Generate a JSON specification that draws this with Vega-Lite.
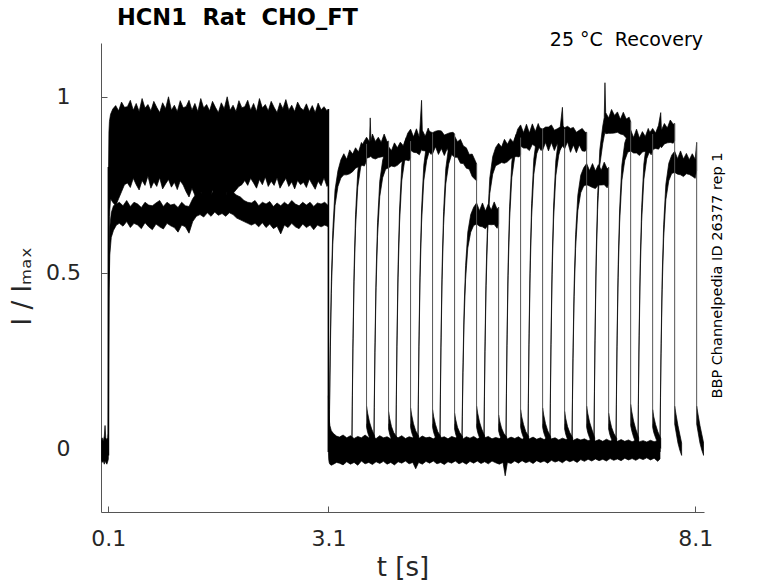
{
"$schema":"https://vega.github.io/schema/vega-lite/v6.json",
"width":603,"height":469,
"autosize":{"type":"none"},
"padding":{"left":101,"top":43,"right":74,"bottom":71},
"background":"white",
"config":{"view":{"stroke":null},"font":"DejaVu Sans"},
"title":{"text":"HCN1\u00a0\u00a0Rat\u00a0\u00a0CHO_FT","anchor":"start","frame":"group","font":"DejaVu Sans","fontSize":22.5,"fontWeight":"bold","color":"black","offset":-17,"baseline":"alphabetic","dx":16},
"datasets":{
"N":[{"note":"25 °C\u00a0\u00a0Recovery"}],
"E":[{"t":0.101,"a":0.80,"b":-0.02},{"t":3.10,"a":0.965,"b":-0.01}],
"R":[{"t":3.62,"a":0.866,"b":0.07},{"t":3.92,"a":0.874,"b":0.07},{"t":4.22,"a":0.874,"b":0.07},{"t":4.52,"a":0.896,"b":0.07},{"t":4.82,"a":0.894,"b":0.07},{"t":5.12,"a":0.809,"b":0.07},{"t":5.42,"a":0.686,"b":0.07},{"t":5.72,"a":0.884,"b":0.07},{"t":6.02,"a":0.909,"b":0.07},{"t":6.32,"a":0.909,"b":0.07},{"t":6.62,"a":0.899,"b":0.07},{"t":6.92,"a":0.799,"b":0.07},{"t":7.22,"a":0.929,"b":0.07},{"t":7.52,"a":0.894,"b":0.07},{"t":7.82,"a":0.924,"b":0.07},{"t":8.12,"a":0.87,"b":0.07}],
"A":[
{"g":"pre","t":0.003,"l":-0.03,"h":0.02},{"g":"pre","t":0.015,"l":-0.04,"h":0.03},{"g":"pre","t":0.03,"l":-0.035,"h":0.02},{"g":"pre","t":0.045,"l":-0.045,"h":0.035},{"g":"pre","t":0.055,"l":-0.035,"h":0.065},{"g":"pre","t":0.065,"l":-0.04,"h":0.03},{"g":"pre","t":0.08,"l":-0.045,"h":0.025},{"g":"pre","t":0.095,"l":-0.035,"h":0.03},{"g":"pre","t":0.1,"l":-0.03,"h":0.04},
{"g":"p1","t":0.100,"l":0.0,"h":0.05},{"g":"p1","t":0.103,"l":0.30,"h":0.80},{"g":"p1","t":0.108,"l":0.55,"h":0.90},{"g":"p1","t":0.115,"l":0.66,"h":0.93},{"g":"p1","t":0.13,"l":0.71,"h":0.95},{"g":"p1","t":0.16,"l":0.70,"h":0.965},{"g":"p1","t":0.2,"l":0.69,"h":0.975},{"g":"p1","t":0.24,"l":0.71,"h":0.96},{"g":"p1","t":0.28,"l":0.73,"h":0.985},{"g":"p1","t":0.32,"l":0.75,"h":0.97},
{"g":"p1","t":0.36,"l":0.755,"h":0.972},{"g":"p1","t":0.40,"l":0.742,"h":0.99},{"g":"p1","t":0.44,"l":0.768,"h":0.962},{"g":"p1","t":0.48,"l":0.75,"h":0.981},{"g":"p1","t":0.52,"l":0.735,"h":0.958},{"g":"p1","t":0.56,"l":0.762,"h":0.995},{"g":"p1","t":0.60,"l":0.748,"h":0.968},{"g":"p1","t":0.64,"l":0.775,"h":0.978},{"g":"p1","t":0.68,"l":0.74,"h":0.96},{"g":"p1","t":0.72,"l":0.758,"h":0.987},{"g":"p1","t":0.76,"l":0.745,"h":0.97},{"g":"p1","t":0.80,"l":0.77,"h":0.955},{"g":"p1","t":0.84,"l":0.738,"h":0.983},{"g":"p1","t":0.88,"l":0.752,"h":0.966},{"g":"p1","t":0.92,"l":0.765,"h":1.0},{"g":"p1","t":0.96,"l":0.743,"h":0.962},{"g":"p1","t":1.00,"l":0.757,"h":0.976},{"g":"p1","t":1.04,"l":0.736,"h":0.958},{"g":"p1","t":1.08,"l":0.761,"h":0.989},{"g":"p1","t":1.12,"l":0.749,"h":0.969},{"g":"p1","t":1.16,"l":0.73,"h":0.972},{"g":"p1","t":1.20,"l":0.715,"h":0.99},{"g":"p1","t":1.24,"l":0.74,"h":0.962},{"g":"p1","t":1.28,"l":0.72,"h":0.981},{"g":"p1","t":1.32,"l":0.705,"h":0.958},{"g":"p1","t":1.36,"l":0.73,"h":0.995},{"g":"p1","t":1.40,"l":0.71,"h":0.968},{"g":"p1","t":1.44,"l":0.725,"h":0.978},{"g":"p1","t":1.48,"l":0.70,"h":0.96},{"g":"p1","t":1.52,"l":0.735,"h":0.987},{"g":"p1","t":1.56,"l":0.715,"h":0.97},{"g":"p1","t":1.60,"l":0.70,"h":0.955},{"g":"p1","t":1.64,"l":0.72,"h":0.983},{"g":"p1","t":1.68,"l":0.705,"h":0.966},{"g":"p1","t":1.72,"l":0.73,"h":1.0},{"g":"p1","t":1.76,"l":0.71,"h":0.962},{"g":"p1","t":1.80,"l":0.725,"h":0.976},{"g":"p1","t":1.84,"l":0.735,"h":0.958},{"g":"p1","t":1.88,"l":0.745,"h":0.989},{"g":"p1","t":1.92,"l":0.75,"h":0.969},{"g":"p1","t":1.96,"l":0.762,"h":0.972},{"g":"p1","t":2.00,"l":0.748,"h":0.99},{"g":"p1","t":2.04,"l":0.768,"h":0.962},{"g":"p1","t":2.08,"l":0.755,"h":0.981},{"g":"p1","t":2.12,"l":0.74,"h":0.958},{"g":"p1","t":2.16,"l":0.765,"h":0.995},{"g":"p1","t":2.20,"l":0.75,"h":0.968},{"g":"p1","t":2.24,"l":0.772,"h":0.978},{"g":"p1","t":2.28,"l":0.745,"h":0.96},{"g":"p1","t":2.32,"l":0.76,"h":0.987},{"g":"p1","t":2.36,"l":0.748,"h":0.97},{"g":"p1","t":2.40,"l":0.77,"h":0.955},{"g":"p1","t":2.44,"l":0.74,"h":0.983},{"g":"p1","t":2.48,"l":0.755,"h":0.966},{"g":"p1","t":2.52,"l":0.768,"h":0.992},{"g":"p1","t":2.56,"l":0.745,"h":0.962},{"g":"p1","t":2.60,"l":0.758,"h":0.976},{"g":"p1","t":2.64,"l":0.738,"h":0.958},{"g":"p1","t":2.68,"l":0.762,"h":0.985},{"g":"p1","t":2.72,"l":0.75,"h":0.969},{"g":"p1","t":2.76,"l":0.757,"h":0.962},{"g":"p1","t":2.80,"l":0.742,"h":0.98},{"g":"p1","t":2.84,"l":0.766,"h":0.958},{"g":"p1","t":2.88,"l":0.751,"h":0.975},{"g":"p1","t":2.92,"l":0.737,"h":0.955},{"g":"p1","t":2.96,"l":0.76,"h":0.982},{"g":"p1","t":3.00,"l":0.747,"h":0.963},{"g":"p1","t":3.04,"l":0.77,"h":0.972},{"g":"p1","t":3.08,"l":0.745,"h":0.96},{"g":"p1","t":3.10,"l":0.75,"h":0.965},
{"g":"lo","t":0.102,"l":0.0,"h":0.08},{"g":"lo","t":0.105,"l":0.25,"h":0.42},{"g":"lo","t":0.11,"l":0.45,"h":0.56},{"g":"lo","t":0.12,"l":0.55,"h":0.63},{"g":"lo","t":0.14,"l":0.60,"h":0.67},{"g":"lo","t":0.17,"l":0.62,"h":0.69},{"g":"lo","t":0.21,"l":0.635,"h":0.695},
{"g":"lo","t":0.25,"l":0.64,"h":0.70},{"g":"lo","t":0.30,"l":0.632,"h":0.69},{"g":"lo","t":0.35,"l":0.645,"h":0.705},{"g":"lo","t":0.40,"l":0.628,"h":0.688},{"g":"lo","t":0.45,"l":0.64,"h":0.70},{"g":"lo","t":0.50,"l":0.635,"h":0.695},{"g":"lo","t":0.55,"l":0.625,"h":0.685},{"g":"lo","t":0.60,"l":0.642,"h":0.70},{"g":"lo","t":0.65,"l":0.63,"h":0.692},{"g":"lo","t":0.70,"l":0.622,"h":0.69},{"g":"lo","t":0.75,"l":0.638,"h":0.698},{"g":"lo","t":0.80,"l":0.63,"h":0.705},{"g":"lo","t":0.85,"l":0.624,"h":0.688},{"g":"lo","t":0.90,"l":0.64,"h":0.70},{"g":"lo","t":0.95,"l":0.633,"h":0.692},{"g":"lo","t":1.00,"l":0.628,"h":0.695},{"g":"lo","t":1.05,"l":0.615,"h":0.685},{"g":"lo","t":1.10,"l":0.635,"h":0.70},{"g":"lo","t":1.15,"l":0.63,"h":0.69},{"g":"lo","t":1.20,"l":0.612,"h":0.688},{"g":"lo","t":1.25,"l":0.645,"h":0.71},{"g":"lo","t":1.30,"l":0.66,"h":0.725},{"g":"lo","t":1.35,"l":0.665,"h":0.73},{"g":"lo","t":1.40,"l":0.658,"h":0.72},{"g":"lo","t":1.45,"l":0.67,"h":0.735},{"g":"lo","t":1.50,"l":0.66,"h":0.722},{"g":"lo","t":1.55,"l":0.672,"h":0.738},{"g":"lo","t":1.60,"l":0.663,"h":0.728},{"g":"lo","t":1.65,"l":0.668,"h":0.735},{"g":"lo","t":1.70,"l":0.66,"h":0.72},{"g":"lo","t":1.75,"l":0.67,"h":0.74},{"g":"lo","t":1.80,"l":0.665,"h":0.728},{"g":"lo","t":1.85,"l":0.655,"h":0.72},{"g":"lo","t":1.90,"l":0.65,"h":0.715},{"g":"lo","t":1.95,"l":0.645,"h":0.705},{"g":"lo","t":2.00,"l":0.64,"h":0.70},{"g":"lo","t":2.05,"l":0.635,"h":0.698},{"g":"lo","t":2.10,"l":0.64,"h":0.705},{"g":"lo","t":2.15,"l":0.63,"h":0.69},{"g":"lo","t":2.20,"l":0.642,"h":0.70},{"g":"lo","t":2.25,"l":0.628,"h":0.695},{"g":"lo","t":2.30,"l":0.638,"h":0.702},{"g":"lo","t":2.35,"l":0.625,"h":0.688},{"g":"lo","t":2.40,"l":0.632,"h":0.698},{"g":"lo","t":2.45,"l":0.61,"h":0.69},{"g":"lo","t":2.50,"l":0.635,"h":0.70},{"g":"lo","t":2.55,"l":0.628,"h":0.692},{"g":"lo","t":2.60,"l":0.64,"h":0.705},{"g":"lo","t":2.65,"l":0.63,"h":0.695},{"g":"lo","t":2.70,"l":0.625,"h":0.69},{"g":"lo","t":2.75,"l":0.638,"h":0.70},{"g":"lo","t":2.80,"l":0.628,"h":0.692},{"g":"lo","t":2.85,"l":0.635,"h":0.70},{"g":"lo","t":2.90,"l":0.622,"h":0.688},{"g":"lo","t":2.95,"l":0.635,"h":0.698},{"g":"lo","t":3.00,"l":0.63,"h":0.695},{"g":"lo","t":3.05,"l":0.635,"h":0.70},{"g":"lo","t":3.10,"l":0.63,"h":0.69},
{"g":"base","t":3.100,"l":-0.01,"h":0.15},{"g":"base","t":3.104,"l":-0.03,"h":0.11},{"g":"base","t":3.11,"l":-0.04,"h":0.085},{"g":"base","t":3.12,"l":-0.045,"h":0.065},{"g":"base","t":3.14,"l":-0.048,"h":0.05},{"g":"base","t":3.17,"l":-0.045,"h":0.042},{"g":"base","t":3.21,"l":-0.04,"h":0.035},
{"g":"base","t":3.25,"l":-0.042,"h":0.032},{"g":"base","t":3.30,"l":-0.047,"h":0.038},{"g":"base","t":3.35,"l":-0.038,"h":0.03},{"g":"base","t":3.40,"l":-0.045,"h":0.036},{"g":"base","t":3.45,"l":-0.04,"h":0.028},{"g":"base","t":3.50,"l":-0.048,"h":0.034},{"g":"base","t":3.55,"l":-0.036,"h":0.03},{"g":"base","t":3.60,"l":-0.044,"h":0.038},{"g":"base","t":3.65,"l":-0.04,"h":0.03},{"g":"base","t":3.70,"l":-0.046,"h":0.034},{"g":"base","t":3.75,"l":-0.038,"h":0.028},{"g":"base","t":3.80,"l":-0.043,"h":0.036},{"g":"base","t":3.85,"l":-0.037,"h":0.03},{"g":"base","t":3.90,"l":-0.045,"h":0.033},{"g":"base","t":3.95,"l":-0.04,"h":0.027},{"g":"base","t":4.00,"l":-0.047,"h":0.035},{"g":"base","t":4.05,"l":-0.038,"h":0.03},{"g":"base","t":4.10,"l":-0.042,"h":0.036},{"g":"base","t":4.15,"l":-0.036,"h":0.028},{"g":"base","t":4.20,"l":-0.044,"h":0.033},{"g":"base","t":4.25,"l":-0.04,"h":0.03},{"g":"base","t":4.29,"l":-0.058,"h":0.034},{"g":"base","t":4.33,"l":-0.04,"h":0.028},{"g":"base","t":4.38,"l":-0.045,"h":0.035},{"g":"base","t":4.43,"l":-0.037,"h":0.03},{"g":"base","t":4.48,"l":-0.042,"h":0.032},{"g":"base","t":4.53,"l":-0.036,"h":0.027},{"g":"base","t":4.58,"l":-0.044,"h":0.034},{"g":"base","t":4.63,"l":-0.04,"h":0.03},{"g":"base","t":4.68,"l":-0.046,"h":0.033},{"g":"base","t":4.73,"l":-0.038,"h":0.027},{"g":"base","t":4.78,"l":-0.042,"h":0.034},{"g":"base","t":4.83,"l":-0.036,"h":0.03},{"g":"base","t":4.88,"l":-0.044,"h":0.032},{"g":"base","t":4.93,"l":-0.039,"h":0.026},{"g":"base","t":4.98,"l":-0.045,"h":0.033},{"g":"base","t":5.03,"l":-0.037,"h":0.029},{"g":"base","t":5.08,"l":-0.042,"h":0.034},{"g":"base","t":5.13,"l":-0.036,"h":0.027},{"g":"base","t":5.18,"l":-0.043,"h":0.032},{"g":"base","t":5.23,"l":-0.038,"h":0.03},{"g":"base","t":5.28,"l":-0.044,"h":0.034},{"g":"base","t":5.33,"l":-0.036,"h":0.027},{"g":"base","t":5.38,"l":-0.041,"h":0.031},{"g":"base","t":5.43,"l":-0.045,"h":0.028},{"g":"base","t":5.48,"l":-0.04,"h":0.033},{"g":"base","t":5.51,"l":-0.078,"h":0.03},{"g":"base","t":5.54,"l":-0.04,"h":0.027},{"g":"base","t":5.59,"l":-0.043,"h":0.032},{"g":"base","t":5.64,"l":-0.036,"h":0.028},{"g":"base","t":5.69,"l":-0.042,"h":0.033},{"g":"base","t":5.74,"l":-0.035,"h":0.026},{"g":"base","t":5.79,"l":-0.041,"h":0.031},{"g":"base","t":5.84,"l":-0.037,"h":0.027},{"g":"base","t":5.89,"l":-0.043,"h":0.032},{"g":"base","t":5.94,"l":-0.035,"h":0.026},{"g":"base","t":5.99,"l":-0.04,"h":0.03},{"g":"base","t":6.04,"l":-0.036,"h":0.025},{"g":"base","t":6.09,"l":-0.042,"h":0.031},{"g":"base","t":6.14,"l":-0.034,"h":0.027},{"g":"base","t":6.19,"l":-0.039,"h":0.03},{"g":"base","t":6.24,"l":-0.035,"h":0.024},{"g":"base","t":6.29,"l":-0.041,"h":0.029},{"g":"base","t":6.34,"l":-0.033,"h":0.025},{"g":"base","t":6.39,"l":-0.038,"h":0.028},{"g":"base","t":6.44,"l":-0.034,"h":0.023},{"g":"base","t":6.49,"l":-0.04,"h":0.028},{"g":"base","t":6.54,"l":-0.032,"h":0.024},{"g":"base","t":6.59,"l":-0.037,"h":0.027},{"g":"base","t":6.64,"l":-0.031,"h":0.022},{"g":"base","t":6.69,"l":-0.036,"h":0.026},{"g":"base","t":6.74,"l":-0.03,"h":0.021},{"g":"base","t":6.79,"l":-0.035,"h":0.025},{"g":"base","t":6.84,"l":-0.031,"h":0.02},{"g":"base","t":6.89,"l":-0.036,"h":0.026},{"g":"base","t":6.94,"l":-0.029,"h":0.021},{"g":"base","t":6.99,"l":-0.034,"h":0.024},{"g":"base","t":7.04,"l":-0.03,"h":0.02},{"g":"base","t":7.09,"l":-0.035,"h":0.025},{"g":"base","t":7.14,"l":-0.028,"h":0.02},{"g":"base","t":7.19,"l":-0.033,"h":0.024},{"g":"base","t":7.24,"l":-0.029,"h":0.019},{"g":"base","t":7.29,"l":-0.034,"h":0.023},{"g":"base","t":7.34,"l":-0.028,"h":0.019},{"g":"base","t":7.39,"l":-0.032,"h":0.022},{"g":"base","t":7.44,"l":-0.027,"h":0.018},{"g":"base","t":7.49,"l":-0.033,"h":0.023},{"g":"base","t":7.54,"l":-0.028,"h":0.019},{"g":"base","t":7.59,"l":-0.037,"h":0.022},{"g":"base","t":7.62,"l":-0.03,"h":0.02},
{"g":"u0","t":3.62,"l":0.06,"h":0.12},{"g":"u0","t":3.635,"l":0.045,"h":0.10},{"g":"u0","t":3.66,"l":0.03,"h":0.075},{"g":"u0","t":3.69,"l":0.015,"h":0.055},{"g":"u0","t":3.73,"l":0.0,"h":0.035},
{"g":"u1","t":3.92,"l":0.055,"h":0.105},{"g":"u1","t":3.935,"l":0.04,"h":0.085},{"g":"u1","t":3.96,"l":0.025,"h":0.062},{"g":"u1","t":3.99,"l":0.012,"h":0.045},{"g":"u1","t":4.03,"l":0.0,"h":0.033},
{"g":"u2","t":4.22,"l":0.06,"h":0.115},{"g":"u2","t":4.235,"l":0.045,"h":0.095},{"g":"u2","t":4.26,"l":0.03,"h":0.07},{"g":"u2","t":4.29,"l":0.015,"h":0.05},{"g":"u2","t":4.33,"l":0.0,"h":0.035},
{"g":"u3","t":4.52,"l":0.06,"h":0.11},{"g":"u3","t":4.535,"l":0.045,"h":0.09},{"g":"u3","t":4.56,"l":0.03,"h":0.068},{"g":"u3","t":4.59,"l":0.015,"h":0.048},{"g":"u3","t":4.63,"l":0.0,"h":0.034},
{"g":"u4","t":4.82,"l":0.055,"h":0.10},{"g":"u4","t":4.835,"l":0.04,"h":0.082},{"g":"u4","t":4.86,"l":0.025,"h":0.06},{"g":"u4","t":4.89,"l":0.012,"h":0.045},{"g":"u4","t":4.93,"l":0.0,"h":0.033},
{"g":"u5","t":5.12,"l":0.06,"h":0.12},{"g":"u5","t":5.135,"l":0.045,"h":0.10},{"g":"u5","t":5.16,"l":0.03,"h":0.075},{"g":"u5","t":5.19,"l":0.015,"h":0.055},{"g":"u5","t":5.23,"l":0.0,"h":0.035},
{"g":"u6","t":5.42,"l":0.05,"h":0.095},{"g":"u6","t":5.435,"l":0.038,"h":0.078},{"g":"u6","t":5.46,"l":0.025,"h":0.058},{"g":"u6","t":5.49,"l":0.012,"h":0.043},{"g":"u6","t":5.53,"l":0.0,"h":0.032},
{"g":"u7","t":5.72,"l":0.06,"h":0.11},{"g":"u7","t":5.735,"l":0.045,"h":0.09},{"g":"u7","t":5.76,"l":0.03,"h":0.068},{"g":"u7","t":5.79,"l":0.015,"h":0.048},{"g":"u7","t":5.83,"l":0.0,"h":0.034},
{"g":"u8","t":6.02,"l":0.06,"h":0.115},{"g":"u8","t":6.035,"l":0.045,"h":0.095},{"g":"u8","t":6.06,"l":0.03,"h":0.07},{"g":"u8","t":6.09,"l":0.015,"h":0.05},{"g":"u8","t":6.13,"l":0.0,"h":0.033},
{"g":"u9","t":6.32,"l":0.055,"h":0.105},{"g":"u9","t":6.335,"l":0.04,"h":0.085},{"g":"u9","t":6.36,"l":0.025,"h":0.062},{"g":"u9","t":6.39,"l":0.012,"h":0.045},{"g":"u9","t":6.43,"l":0.0,"h":0.03},
{"g":"u10","t":6.62,"l":0.06,"h":0.12},{"g":"u10","t":6.635,"l":0.045,"h":0.10},{"g":"u10","t":6.66,"l":0.03,"h":0.075},{"g":"u10","t":6.69,"l":0.015,"h":0.055},{"g":"u10","t":6.73,"l":0.0,"h":0.03},
{"g":"u11","t":6.92,"l":0.055,"h":0.10},{"g":"u11","t":6.935,"l":0.04,"h":0.082},{"g":"u11","t":6.96,"l":0.025,"h":0.06},{"g":"u11","t":6.99,"l":0.012,"h":0.043},{"g":"u11","t":7.03,"l":0.0,"h":0.028},
{"g":"u12","t":7.22,"l":0.065,"h":0.125},{"g":"u12","t":7.235,"l":0.05,"h":0.105},{"g":"u12","t":7.26,"l":0.032,"h":0.078},{"g":"u12","t":7.29,"l":0.015,"h":0.055},{"g":"u12","t":7.33,"l":0.0,"h":0.03},
{"g":"u13","t":7.52,"l":0.06,"h":0.11},{"g":"u13","t":7.535,"l":0.045,"h":0.09},{"g":"u13","t":7.56,"l":0.03,"h":0.068},{"g":"u13","t":7.59,"l":0.015,"h":0.048},{"g":"u13","t":7.63,"l":0.0,"h":0.028},
{"g":"u14","t":7.82,"l":0.07,"h":0.12},{"g":"u14","t":7.84,"l":0.045,"h":0.095},{"g":"u14","t":7.865,"l":0.015,"h":0.065},{"g":"u14","t":7.89,"l":-0.005,"h":0.04},{"g":"u14","t":7.915,"l":-0.02,"h":0.015},
{"g":"u15","t":8.12,"l":0.07,"h":0.12},{"g":"u15","t":8.14,"l":0.045,"h":0.095},{"g":"u15","t":8.165,"l":0.015,"h":0.065},{"g":"u15","t":8.19,"l":-0.005,"h":0.04},{"g":"u15","t":8.215,"l":-0.02,"h":0.015},
{"g":"k0","t":3.11,"l":-0.01,"h":0.02},{"g":"k0","t":3.116,"l":0.11,"h":0.14},{"g":"k0","t":3.125,"l":0.26,"h":0.29},{"g":"k0","t":3.14,"l":0.44,"h":0.475},{"g":"k0","t":3.16,"l":0.58,"h":0.62},{"g":"k0","t":3.19,"l":0.69,"h":0.735},{"g":"k0","t":3.23,"l":0.745,"h":0.79},{"g":"k0","t":3.27,"l":0.769,"h":0.821},{"g":"k0","t":3.31,"l":0.778,"h":0.838},{"g":"k0","t":3.35,"l":0.778,"h":0.822},{"g":"k0","t":3.39,"l":0.781,"h":0.849},{"g":"k0","t":3.43,"l":0.787,"h":0.837},{"g":"k0","t":3.47,"l":0.797,"h":0.855},{"g":"k0","t":3.51,"l":0.801,"h":0.843},{"g":"k0","t":3.55,"l":0.806,"h":0.87},{"g":"k0","t":3.59,"l":0.803,"h":0.857},{"g":"k0","t":3.62,"l":0.818,"h":0.866},
{"g":"k1","t":3.42,"l":-0.01,"h":0.02},{"g":"k1","t":3.426,"l":0.12,"h":0.15},{"g":"k1","t":3.435,"l":0.283,"h":0.313},{"g":"k1","t":3.45,"l":0.475,"h":0.511},{"g":"k1","t":3.47,"l":0.626,"h":0.666},{"g":"k1","t":3.50,"l":0.743,"h":0.787},{"g":"k1","t":3.54,"l":0.80,"h":0.85},{"g":"k1","t":3.58,"l":0.819,"h":0.871},{"g":"k1","t":3.62,"l":0.825,"h":0.885},{"g":"k1","t":3.66,"l":0.828,"h":0.872},{"g":"k1","t":3.67,"l":0.83,"h":0.94},{"g":"k1","t":3.68,"l":0.83,"h":0.875},{"g":"k1","t":3.70,"l":0.826,"h":0.894},{"g":"k1","t":3.74,"l":0.823,"h":0.873},{"g":"k1","t":3.78,"l":0.827,"h":0.885},{"g":"k1","t":3.82,"l":0.829,"h":0.871},{"g":"k1","t":3.86,"l":0.83,"h":0.894},{"g":"k1","t":3.90,"l":0.818,"h":0.872},{"g":"k1","t":3.92,"l":0.826,"h":0.874},
{"g":"k2","t":3.72,"l":-0.01,"h":0.02},{"g":"k2","t":3.726,"l":0.116,"h":0.146},{"g":"k2","t":3.735,"l":0.272,"h":0.302},{"g":"k2","t":3.75,"l":0.458,"h":0.494},{"g":"k2","t":3.77,"l":0.603,"h":0.643},{"g":"k2","t":3.80,"l":0.716,"h":0.76},{"g":"k2","t":3.84,"l":0.77,"h":0.82},{"g":"k2","t":3.88,"l":0.794,"h":0.846},{"g":"k2","t":3.92,"l":0.798,"h":0.858},{"g":"k2","t":3.96,"l":0.803,"h":0.847},{"g":"k2","t":4.00,"l":0.801,"h":0.869},{"g":"k2","t":4.04,"l":0.805,"h":0.855},{"g":"k2","t":4.08,"l":0.813,"h":0.871},{"g":"k2","t":4.12,"l":0.819,"h":0.861},{"g":"k2","t":4.16,"l":0.82,"h":0.884},{"g":"k2","t":4.20,"l":0.818,"h":0.872},{"g":"k2","t":4.22,"l":0.826,"h":0.874},
{"g":"k3","t":4.02,"l":-0.01,"h":0.02},{"g":"k3","t":4.026,"l":0.124,"h":0.154},{"g":"k3","t":4.035,"l":0.29,"h":0.32},{"g":"k3","t":4.05,"l":0.487,"h":0.523},{"g":"k3","t":4.07,"l":0.641,"h":0.681},{"g":"k3","t":4.10,"l":0.761,"h":0.805},{"g":"k3","t":4.14,"l":0.819,"h":0.869},{"g":"k3","t":4.18,"l":0.844,"h":0.896},{"g":"k3","t":4.22,"l":0.848,"h":0.908},{"g":"k3","t":4.26,"l":0.842,"h":0.886},{"g":"k3","t":4.30,"l":0.841,"h":0.909},{"g":"k3","t":4.34,"l":0.835,"h":0.885},{"g":"k3","t":4.37,"l":0.85,"h":0.99},{"g":"k3","t":4.38,"l":0.847,"h":0.905},{"g":"k3","t":4.42,"l":0.846,"h":0.888},{"g":"k3","t":4.46,"l":0.847,"h":0.911},{"g":"k3","t":4.50,"l":0.836,"h":0.89},{"g":"k3","t":4.52,"l":0.848,"h":0.896},
{"g":"k4","t":4.32,"l":-0.01,"h":0.02},{"g":"k4","t":4.326,"l":0.124,"h":0.154},{"g":"k4","t":4.335,"l":0.29,"h":0.32},{"g":"k4","t":4.35,"l":0.487,"h":0.523},{"g":"k4","t":4.37,"l":0.641,"h":0.681},{"g":"k4","t":4.40,"l":0.761,"h":0.805},{"g":"k4","t":4.44,"l":0.819,"h":0.869},{"g":"k4","t":4.48,"l":0.849,"h":0.901},{"g":"k4","t":4.52,"l":0.838,"h":0.898},{"g":"k4","t":4.56,"l":0.858,"h":0.902},{"g":"k4","t":4.60,"l":0.836,"h":0.904},{"g":"k4","t":4.64,"l":0.853,"h":0.903},{"g":"k4","t":4.68,"l":0.833,"h":0.891},{"g":"k4","t":4.72,"l":0.853,"h":0.895},{"g":"k4","t":4.76,"l":0.834,"h":0.898},{"g":"k4","t":4.80,"l":0.845,"h":0.899},{"g":"k4","t":4.82,"l":0.846,"h":0.894},
{"g":"k5","t":4.62,"l":-0.01,"h":0.02},{"g":"k5","t":4.626,"l":0.123,"h":0.153},{"g":"k5","t":4.635,"l":0.286,"h":0.316},{"g":"k5","t":4.65,"l":0.481,"h":0.517},{"g":"k5","t":4.67,"l":0.634,"h":0.674},{"g":"k5","t":4.70,"l":0.752,"h":0.796},{"g":"k5","t":4.74,"l":0.809,"h":0.859},{"g":"k5","t":4.78,"l":0.836,"h":0.888},{"g":"k5","t":4.82,"l":0.828,"h":0.888},{"g":"k5","t":4.86,"l":0.828,"h":0.872},{"g":"k5","t":4.90,"l":0.811,"h":0.879},{"g":"k5","t":4.94,"l":0.81,"h":0.86},{"g":"k5","t":4.98,"l":0.797,"h":0.855},{"g":"k5","t":5.02,"l":0.794,"h":0.836},{"g":"k5","t":5.06,"l":0.773,"h":0.837},{"g":"k5","t":5.10,"l":0.765,"h":0.819},{"g":"k5","t":5.12,"l":0.761,"h":0.809},
{"g":"k6","t":4.92,"l":-0.01,"h":0.02},{"g":"k6","t":4.926,"l":0.09,"h":0.12},{"g":"k6","t":4.935,"l":0.215,"h":0.245},{"g":"k6","t":4.95,"l":0.365,"h":0.40},{"g":"k6","t":4.97,"l":0.48,"h":0.52},{"g":"k6","t":5.00,"l":0.57,"h":0.615},{"g":"k6","t":5.04,"l":0.615,"h":0.665},{"g":"k6","t":5.08,"l":0.634,"h":0.686},{"g":"k6","t":5.12,"l":0.638,"h":0.698},{"g":"k6","t":5.16,"l":0.632,"h":0.676},{"g":"k6","t":5.20,"l":0.63,"h":0.698},{"g":"k6","t":5.24,"l":0.625,"h":0.675},{"g":"k6","t":5.28,"l":0.637,"h":0.695},{"g":"k6","t":5.32,"l":0.636,"h":0.678},{"g":"k6","t":5.36,"l":0.637,"h":0.701},{"g":"k6","t":5.40,"l":0.626,"h":0.68},{"g":"k6","t":5.42,"l":0.638,"h":0.686},
{"g":"k7","t":5.22,"l":-0.01,"h":0.02},{"g":"k7","t":5.226,"l":0.118,"h":0.148},{"g":"k7","t":5.235,"l":0.275,"h":0.305},{"g":"k7","t":5.25,"l":0.463,"h":0.499},{"g":"k7","t":5.27,"l":0.611,"h":0.651},{"g":"k7","t":5.30,"l":0.725,"h":0.769},{"g":"k7","t":5.34,"l":0.78,"h":0.83},{"g":"k7","t":5.38,"l":0.804,"h":0.856},{"g":"k7","t":5.42,"l":0.808,"h":0.868},{"g":"k7","t":5.46,"l":0.813,"h":0.857},{"g":"k7","t":5.50,"l":0.811,"h":0.879},{"g":"k7","t":5.54,"l":0.815,"h":0.865},{"g":"k7","t":5.58,"l":0.823,"h":0.881},{"g":"k7","t":5.62,"l":0.829,"h":0.871},{"g":"k7","t":5.66,"l":0.83,"h":0.894},{"g":"k7","t":5.70,"l":0.829,"h":0.883},{"g":"k7","t":5.72,"l":0.836,"h":0.884},
{"g":"k8","t":5.52,"l":-0.01,"h":0.02},{"g":"k8","t":5.526,"l":0.126,"h":0.156},{"g":"k8","t":5.535,"l":0.293,"h":0.323},{"g":"k8","t":5.55,"l":0.492,"h":0.528},{"g":"k8","t":5.57,"l":0.649,"h":0.689},{"g":"k8","t":5.60,"l":0.77,"h":0.814},{"g":"k8","t":5.64,"l":0.829,"h":0.879},{"g":"k8","t":5.68,"l":0.856,"h":0.908},{"g":"k8","t":5.72,"l":0.86,"h":0.92},{"g":"k8","t":5.76,"l":0.854,"h":0.898},{"g":"k8","t":5.80,"l":0.854,"h":0.922},{"g":"k8","t":5.84,"l":0.847,"h":0.897},{"g":"k8","t":5.88,"l":0.865,"h":0.923},{"g":"k8","t":5.92,"l":0.859,"h":0.901},{"g":"k8","t":5.96,"l":0.86,"h":0.924},{"g":"k8","t":6.00,"l":0.847,"h":0.901},{"g":"k8","t":6.02,"l":0.861,"h":0.909},
{"g":"k9","t":5.82,"l":-0.01,"h":0.02},{"g":"k9","t":5.826,"l":0.127,"h":0.157},{"g":"k9","t":5.835,"l":0.296,"h":0.326},{"g":"k9","t":5.85,"l":0.498,"h":0.534},{"g":"k9","t":5.87,"l":0.656,"h":0.696},{"g":"k9","t":5.90,"l":0.779,"h":0.823},{"g":"k9","t":5.94,"l":0.838,"h":0.888},{"g":"k9","t":5.98,"l":0.86,"h":0.912},{"g":"k9","t":6.02,"l":0.848,"h":0.908},{"g":"k9","t":6.06,"l":0.87,"h":0.914},{"g":"k9","t":6.10,"l":0.846,"h":0.914},{"g":"k9","t":6.14,"l":0.87,"h":0.92},{"g":"k9","t":6.18,"l":0.847,"h":0.905},{"g":"k9","t":6.22,"l":0.867,"h":0.909},{"g":"k9","t":6.26,"l":0.85,"h":0.914},{"g":"k9","t":6.29,"l":0.86,"h":0.97},{"g":"k9","t":6.30,"l":0.863,"h":0.917},{"g":"k9","t":6.32,"l":0.861,"h":0.909},
{"g":"k10","t":6.12,"l":-0.01,"h":0.02},{"g":"k10","t":6.126,"l":0.127,"h":0.157},{"g":"k10","t":6.135,"l":0.295,"h":0.325},{"g":"k10","t":6.15,"l":0.495,"h":0.531},{"g":"k10","t":6.17,"l":0.652,"h":0.692},{"g":"k10","t":6.20,"l":0.775,"h":0.819},{"g":"k10","t":6.24,"l":0.834,"h":0.884},{"g":"k10","t":6.28,"l":0.864,"h":0.916},{"g":"k10","t":6.32,"l":0.852,"h":0.912},{"g":"k10","t":6.36,"l":0.872,"h":0.916},{"g":"k10","t":6.40,"l":0.842,"h":0.91},{"g":"k10","t":6.44,"l":0.863,"h":0.913},{"g":"k10","t":6.48,"l":0.841,"h":0.899},{"g":"k10","t":6.52,"l":0.863,"h":0.905},{"g":"k10","t":6.56,"l":0.846,"h":0.91},{"g":"k10","t":6.60,"l":0.845,"h":0.899},{"g":"k10","t":6.62,"l":0.851,"h":0.899},
{"g":"k11","t":6.42,"l":-0.01,"h":0.02},{"g":"k11","t":6.426,"l":0.109,"h":0.139},{"g":"k11","t":6.435,"l":0.256,"h":0.286},{"g":"k11","t":6.45,"l":0.432,"h":0.468},{"g":"k11","t":6.47,"l":0.569,"h":0.609},{"g":"k11","t":6.50,"l":0.676,"h":0.72},{"g":"k11","t":6.54,"l":0.727,"h":0.777},{"g":"k11","t":6.58,"l":0.746,"h":0.798},{"g":"k11","t":6.62,"l":0.75,"h":0.81},{"g":"k11","t":6.66,"l":0.746,"h":0.79},{"g":"k11","t":6.70,"l":0.742,"h":0.81},{"g":"k11","t":6.74,"l":0.739,"h":0.789},{"g":"k11","t":6.78,"l":0.749,"h":0.807},{"g":"k11","t":6.82,"l":0.749,"h":0.791},{"g":"k11","t":6.86,"l":0.75,"h":0.814},{"g":"k11","t":6.90,"l":0.741,"h":0.795},{"g":"k11","t":6.92,"l":0.751,"h":0.799},
{"g":"k12","t":6.72,"l":-0.01,"h":0.02},{"g":"k12","t":6.726,"l":0.132,"h":0.162},{"g":"k12","t":6.735,"l":0.307,"h":0.337},{"g":"k12","t":6.75,"l":0.516,"h":0.552},{"g":"k12","t":6.77,"l":0.679,"h":0.719},{"g":"k12","t":6.80,"l":0.806,"h":0.85},{"g":"k12","t":6.84,"l":0.867,"h":0.917},{"g":"k12","t":6.86,"l":0.889,"h":0.941},{"g":"k12","t":6.87,"l":0.90,"h":1.04},{"g":"k12","t":6.88,"l":0.895,"h":0.955},{"g":"k12","t":6.92,"l":0.896,"h":0.94},{"g":"k12","t":6.96,"l":0.896,"h":0.964},{"g":"k12","t":7.00,"l":0.897,"h":0.947},{"g":"k12","t":7.04,"l":0.899,"h":0.957},{"g":"k12","t":7.08,"l":0.894,"h":0.936},{"g":"k12","t":7.12,"l":0.892,"h":0.956},{"g":"k12","t":7.16,"l":0.883,"h":0.937},{"g":"k12","t":7.20,"l":0.894,"h":0.942},{"g":"k12","t":7.22,"l":0.881,"h":0.929},
{"g":"k13","t":7.02,"l":-0.01,"h":0.02},{"g":"k13","t":7.026,"l":0.124,"h":0.154},{"g":"k13","t":7.035,"l":0.29,"h":0.32},{"g":"k13","t":7.05,"l":0.487,"h":0.523},{"g":"k13","t":7.07,"l":0.641,"h":0.681},{"g":"k13","t":7.10,"l":0.761,"h":0.805},{"g":"k13","t":7.14,"l":0.819,"h":0.869},{"g":"k13","t":7.18,"l":0.842,"h":0.894},{"g":"k13","t":7.22,"l":0.846,"h":0.906},{"g":"k13","t":7.26,"l":0.84,"h":0.884},{"g":"k13","t":7.30,"l":0.84,"h":0.908},{"g":"k13","t":7.34,"l":0.833,"h":0.883},{"g":"k13","t":7.38,"l":0.843,"h":0.901},{"g":"k13","t":7.42,"l":0.845,"h":0.887},{"g":"k13","t":7.46,"l":0.846,"h":0.91},{"g":"k13","t":7.50,"l":0.835,"h":0.889},{"g":"k13","t":7.52,"l":0.846,"h":0.894},
{"g":"k14","t":7.32,"l":-0.01,"h":0.02},{"g":"k14","t":7.326,"l":0.125,"h":0.155},{"g":"k14","t":7.335,"l":0.291,"h":0.321},{"g":"k14","t":7.35,"l":0.49,"h":0.526},{"g":"k14","t":7.37,"l":0.645,"h":0.685},{"g":"k14","t":7.40,"l":0.765,"h":0.809},{"g":"k14","t":7.44,"l":0.824,"h":0.874},{"g":"k14","t":7.48,"l":0.846,"h":0.898},{"g":"k14","t":7.52,"l":0.85,"h":0.91},{"g":"k14","t":7.56,"l":0.853,"h":0.897},{"g":"k14","t":7.60,"l":0.851,"h":0.919},{"g":"k14","t":7.63,"l":0.86,"h":0.955},{"g":"k14","t":7.64,"l":0.855,"h":0.905},{"g":"k14","t":7.68,"l":0.866,"h":0.924},{"g":"k14","t":7.72,"l":0.869,"h":0.911},{"g":"k14","t":7.76,"l":0.87,"h":0.934},{"g":"k14","t":7.80,"l":0.868,"h":0.922},{"g":"k14","t":7.82,"l":0.876,"h":0.924},
{"g":"k15","t":7.62,"l":-0.01,"h":0.02},{"g":"k15","t":7.626,"l":0.115,"h":0.145},{"g":"k15","t":7.635,"l":0.269,"h":0.299},{"g":"k15","t":7.65,"l":0.452,"h":0.488},{"g":"k15","t":7.67,"l":0.596,"h":0.636},{"g":"k15","t":7.70,"l":0.707,"h":0.751},{"g":"k15","t":7.74,"l":0.761,"h":0.811},{"g":"k15","t":7.78,"l":0.782,"h":0.834},{"g":"k15","t":7.82,"l":0.785,"h":0.845},{"g":"k15","t":7.86,"l":0.78,"h":0.824},{"g":"k15","t":7.90,"l":0.778,"h":0.846},{"g":"k15","t":7.94,"l":0.773,"h":0.823},{"g":"k15","t":7.98,"l":0.781,"h":0.839},{"g":"k15","t":8.02,"l":0.779,"h":0.821},{"g":"k15","t":8.06,"l":0.774,"h":0.838},{"g":"k15","t":8.10,"l":0.768,"h":0.822},{"g":"k15","t":8.12,"l":0.79,"h":0.87}
]},
"resolve":{"axis":{"x":"independent","y":"independent"}},
"layer":[
{"data":{"name":"A"},
 "mark":{"type":"area","color":"black","stroke":"black","strokeWidth":0.7,"clip":true},
 "encoding":{
  "x":{"field":"t","type":"quantitative","scale":{"domain":[0,8.22],"nice":false,"zero":false},
   "axis":{"values":[0.1,3.1,8.1],"format":".2~g","title":"t [s]","grid":false,"domainColor":"#555","tickColor":"#555","tickSize":-6,"labelFont":"DejaVu Sans","labelFontSize":22,"labelColor":"#262626","labelPadding":22,"labelFlush":false,"labelOverlap":false,"titleFont":"DejaVu Sans","titleFontSize":26,"titleFontWeight":"normal","titleColor":"#262626","titleY":63,"titleBaseline":"alphabetic"}},
  "y":{"field":"h","type":"quantitative","scale":{"domain":[-0.181,1.153],"nice":false,"zero":false},
   "axis":{"values":[0,0.5,1],"format":".2~g","title":"I / Iₘₐₓ","grid":false,"domainColor":"#555","tickColor":"#555","tickSize":-6,"labelFont":"DejaVu Sans","labelFontSize":22,"labelColor":"#262626","labelAlign":"center","labelBaseline":"middle","labelPadding":44,"titleFont":"DejaVu Sans","titleFontSize":26,"titleFontWeight":"normal","titleColor":"#262626","titleAngle":270,"titleX":-71,"titleY":282,"titleAlign":"left","titleBaseline":"alphabetic"}},
  "y2":{"field":"l"},
  "detail":{"field":"g","type":"nominal"}
 }},
{"data":{"name":"R"},
 "mark":{"type":"rule","color":"#555","strokeWidth":1,"clip":true},
 "encoding":{
  "x":{"field":"t","type":"quantitative","scale":{"domain":[0,8.22],"nice":false,"zero":false},"axis":null},
  "y":{"field":"a","type":"quantitative","scale":{"domain":[-0.181,1.153],"nice":false,"zero":false},"axis":null},
  "y2":{"field":"b"}
 }},
{"data":{"name":"E"},
 "mark":{"type":"rule","color":"black","strokeWidth":1.6,"clip":true},
 "encoding":{
  "x":{"field":"t","type":"quantitative","scale":{"domain":[0,8.22],"nice":false,"zero":false},"axis":null},
  "y":{"field":"a","type":"quantitative","scale":{"domain":[-0.181,1.153],"nice":false,"zero":false},
   "axis":{"orient":"right","title":"BBP Channelpedia ID 26377 rep 1","labels":false,"ticks":false,"domain":false,"grid":false,"titleAngle":270,"titleX":17,"titleY":232,"titleAlign":"center","titleBaseline":"alphabetic","titleFont":"DejaVu Sans","titleFontSize":14.5,"titleFontWeight":"normal","titleColor":"black"}},
  "y2":{"field":"b"}
 }},
{"data":{"name":"N"},
 "mark":{"type":"text","align":"right","baseline":"alphabetic","font":"DejaVu Sans","fontSize":19,"color":"black","clip":false},
 "encoding":{
  "x":{"datum":8.206,"type":"quantitative","axis":null},
  "y":{"datum":1.1445,"type":"quantitative","axis":null},
  "text":{"field":"note"}
 }}
]
}
